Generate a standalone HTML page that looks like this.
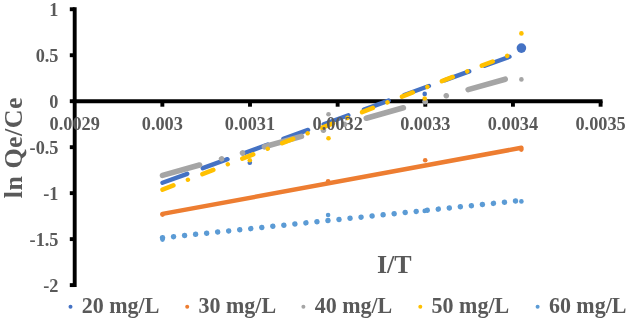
<!DOCTYPE html>
<html><head><meta charset="utf-8"><style>
html,body{margin:0;padding:0;background:#fff;width:628px;height:324px;overflow:hidden}
svg{display:block;will-change:transform}
</style></head><body>
<svg width="628" height="324" viewBox="0 0 628 324">
<line x1="74.70" y1="7.30" x2="74.70" y2="287.05" stroke="#000" stroke-width="3.9"/>
<line x1="72.75" y1="101.20" x2="602.55" y2="101.20" stroke="#000" stroke-width="3.9"/>
<line x1="69.8" y1="9.25" x2="74.70" y2="9.25" stroke="#000" stroke-width="3.9"/>
<line x1="69.8" y1="55.23" x2="74.70" y2="55.23" stroke="#000" stroke-width="3.9"/>
<line x1="69.8" y1="101.20" x2="74.70" y2="101.20" stroke="#000" stroke-width="3.9"/>
<line x1="69.8" y1="147.18" x2="74.70" y2="147.18" stroke="#000" stroke-width="3.9"/>
<line x1="69.8" y1="193.15" x2="74.70" y2="193.15" stroke="#000" stroke-width="3.9"/>
<line x1="69.8" y1="239.12" x2="74.70" y2="239.12" stroke="#000" stroke-width="3.9"/>
<line x1="69.8" y1="285.10" x2="74.70" y2="285.10" stroke="#000" stroke-width="3.9"/>
<line x1="162.35" y1="101.20" x2="162.35" y2="106.7" stroke="#000" stroke-width="3.9"/>
<line x1="250.00" y1="101.20" x2="250.00" y2="106.7" stroke="#000" stroke-width="3.9"/>
<line x1="337.65" y1="101.20" x2="337.65" y2="106.7" stroke="#000" stroke-width="3.9"/>
<line x1="425.30" y1="101.20" x2="425.30" y2="106.7" stroke="#000" stroke-width="3.9"/>
<line x1="512.95" y1="101.20" x2="512.95" y2="106.7" stroke="#000" stroke-width="3.9"/>
<line x1="600.60" y1="101.20" x2="600.60" y2="106.7" stroke="#000" stroke-width="3.9"/>
<line x1="162.5" y1="182.80" x2="521.4" y2="52.41" stroke="#4472C4" stroke-width="4.4" stroke-linecap="round" stroke-dasharray="26.3 16.56"/>
<circle cx="249.8" cy="162.7" r="2.3" fill="#4472C4"/>
<circle cx="424.7" cy="93.9" r="2.3" fill="#4472C4"/>
<circle cx="521.4" cy="48.1" r="4.8" fill="#4472C4"/>
<line x1="162.5" y1="213.90" x2="521.4" y2="147.80" stroke="#ED7D31" stroke-width="4.5" stroke-linecap="round"/>
<circle cx="162.5" cy="214.6" r="2.3" fill="#ED7D31"/>
<circle cx="328.1" cy="181.2" r="2.3" fill="#ED7D31"/>
<circle cx="425.2" cy="160.3" r="2.3" fill="#ED7D31"/>
<circle cx="521.3" cy="149.6" r="2.3" fill="#ED7D31"/>
<line x1="162.5" y1="175.40" x2="521.4" y2="74.66" stroke="#A5A5A5" stroke-width="5.6" stroke-linecap="round" stroke-dasharray="38.5 22.8 0.01 21.8 0.01 22.7"/>
<circle cx="328.5" cy="114.3" r="2.3" fill="#A5A5A5"/>
<circle cx="424.7" cy="101.6" r="2.3" fill="#A5A5A5"/>
<circle cx="521.4" cy="79.4" r="2.3" fill="#A5A5A5"/>
<line x1="162.5" y1="189.60" x2="521.4" y2="50.35" stroke="#FFC000" stroke-width="4.5" stroke-linecap="round" stroke-dasharray="11.7 15.55 0.01 15.55"/>
<circle cx="249.8" cy="160.2" r="2.3" fill="#FFC000"/>
<circle cx="328.5" cy="138.3" r="2.3" fill="#FFC000"/>
<circle cx="424.7" cy="98.5" r="2.3" fill="#FFC000"/>
<circle cx="521.4" cy="33.4" r="2.3" fill="#FFC000"/>
<line x1="162.5" y1="237.80" x2="521.4" y2="200.47" stroke="#5B9BD5" stroke-width="5.5" stroke-linecap="round" stroke-dasharray="0.01 11.08"/>
<circle cx="162.5" cy="239.6" r="2.3" fill="#5B9BD5"/>
<circle cx="328.1" cy="215" r="2.3" fill="#5B9BD5"/>
<circle cx="424.7" cy="210.9" r="2.3" fill="#5B9BD5"/>
<circle cx="521.4" cy="201.4" r="2.3" fill="#5B9BD5"/>
<text x="58.5" y="15.75" text-anchor="end" font-family="Liberation Serif" font-weight="bold" font-size="18.3" fill="#595959">1</text>
<text x="58.5" y="61.73" text-anchor="end" font-family="Liberation Serif" font-weight="bold" font-size="18.3" fill="#595959">0.5</text>
<text x="58.5" y="107.70" text-anchor="end" font-family="Liberation Serif" font-weight="bold" font-size="18.3" fill="#595959">0</text>
<text x="58.5" y="153.68" text-anchor="end" font-family="Liberation Serif" font-weight="bold" font-size="18.3" fill="#595959">-0.5</text>
<text x="58.5" y="199.65" text-anchor="end" font-family="Liberation Serif" font-weight="bold" font-size="18.3" fill="#595959">-1</text>
<text x="58.5" y="245.62" text-anchor="end" font-family="Liberation Serif" font-weight="bold" font-size="18.3" fill="#595959">-1.5</text>
<text x="58.5" y="291.60" text-anchor="end" font-family="Liberation Serif" font-weight="bold" font-size="18.3" fill="#595959">-2</text>
<text x="74.70" y="130" text-anchor="middle" font-family="Liberation Serif" font-weight="bold" font-size="18.3" fill="#595959">0.0029</text>
<text x="162.35" y="130" text-anchor="middle" font-family="Liberation Serif" font-weight="bold" font-size="18.3" fill="#595959">0.003</text>
<text x="250.00" y="130" text-anchor="middle" font-family="Liberation Serif" font-weight="bold" font-size="18.3" fill="#595959">0.0031</text>
<text x="337.65" y="130" text-anchor="middle" font-family="Liberation Serif" font-weight="bold" font-size="18.3" fill="#595959">0.0032</text>
<text x="425.30" y="130" text-anchor="middle" font-family="Liberation Serif" font-weight="bold" font-size="18.3" fill="#595959">0.0033</text>
<text x="512.95" y="130" text-anchor="middle" font-family="Liberation Serif" font-weight="bold" font-size="18.3" fill="#595959">0.0034</text>
<text x="600.60" y="130" text-anchor="middle" font-family="Liberation Serif" font-weight="bold" font-size="18.3" fill="#595959">0.0035</text>
<text transform="translate(22.3,147.6) rotate(-90)" text-anchor="middle" letter-spacing="0.45" font-family="Liberation Serif" font-weight="bold" font-size="26" fill="#595959">ln Qe/Ce</text>
<text x="394.3" y="273.4" text-anchor="middle" font-family="Liberation Serif" font-weight="bold" font-size="26" fill="#595959">I/T</text>
<circle cx="70.5" cy="306.8" r="2" fill="#4472C4"/>
<text x="81.80" y="313.4" transform="translate(0,313.4) scale(1,1.06) translate(0,-313.4)" font-family="Liberation Serif" font-weight="bold" font-size="22" fill="#595959">20 mg/L</text>
<circle cx="187.2" cy="306.8" r="2" fill="#ED7D31"/>
<text x="198.50" y="313.4" transform="translate(0,313.4) scale(1,1.06) translate(0,-313.4)" font-family="Liberation Serif" font-weight="bold" font-size="22" fill="#595959">30 mg/L</text>
<circle cx="303.4" cy="306.8" r="2" fill="#A5A5A5"/>
<text x="314.70" y="313.4" transform="translate(0,313.4) scale(1,1.06) translate(0,-313.4)" font-family="Liberation Serif" font-weight="bold" font-size="22" fill="#595959">40 mg/L</text>
<circle cx="420.3" cy="306.8" r="2" fill="#FFC000"/>
<text x="431.60" y="313.4" transform="translate(0,313.4) scale(1,1.06) translate(0,-313.4)" font-family="Liberation Serif" font-weight="bold" font-size="22" fill="#595959">50 mg/L</text>
<circle cx="537.6" cy="306.8" r="2" fill="#5B9BD5"/>
<text x="548.90" y="313.4" transform="translate(0,313.4) scale(1,1.06) translate(0,-313.4)" font-family="Liberation Serif" font-weight="bold" font-size="22" fill="#595959">60 mg/L</text>
</svg>
</body></html>
